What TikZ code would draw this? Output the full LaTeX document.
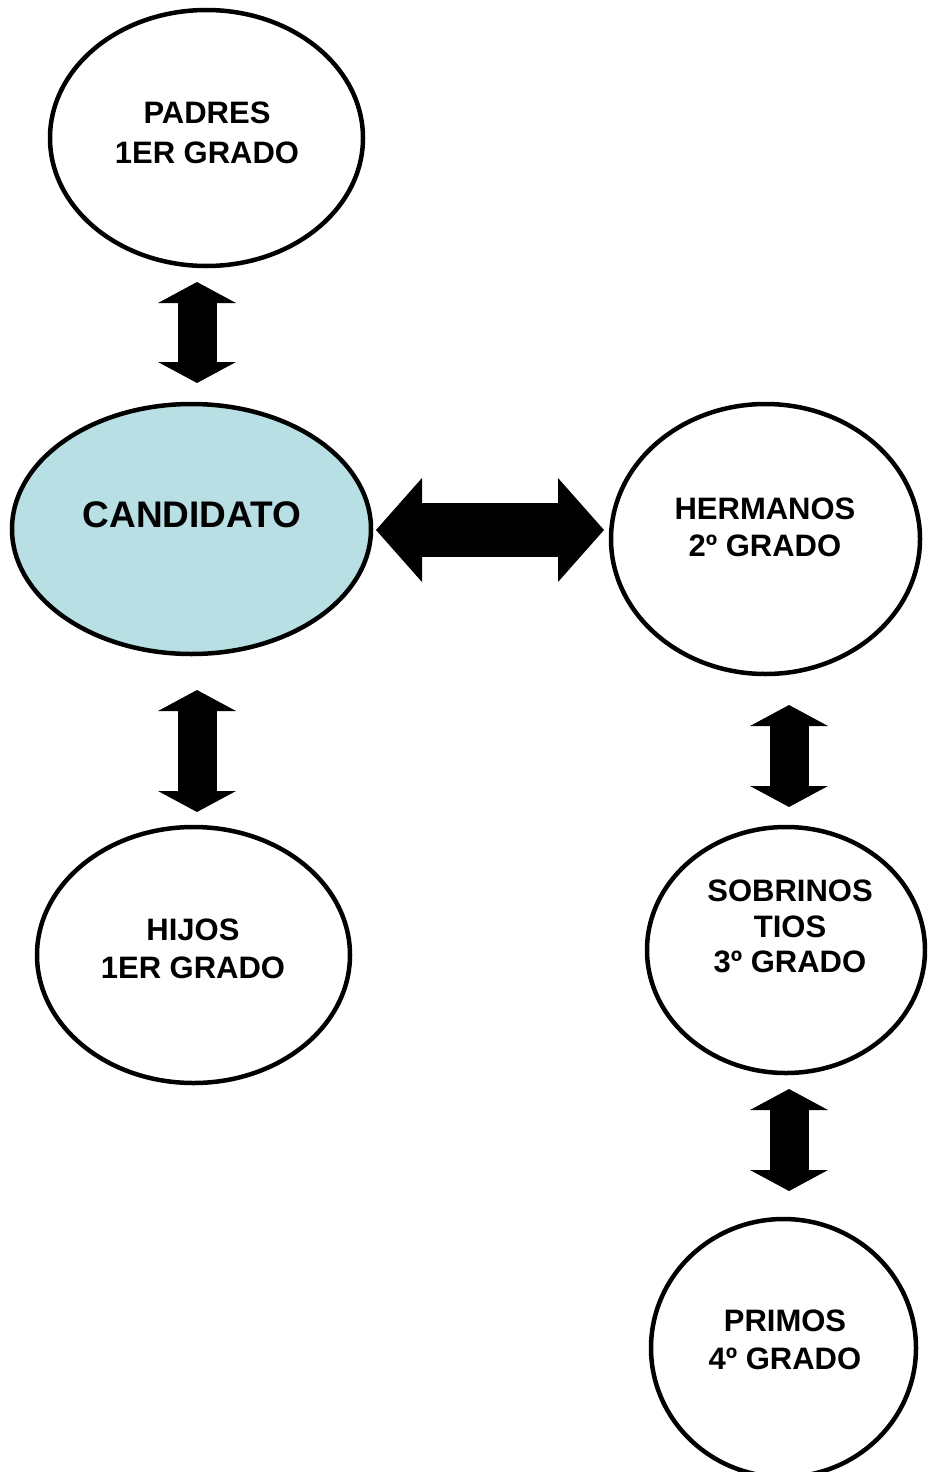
\documentclass[tikz,border=0pt]{standalone}
\usepackage{fontspec}
\setmainfont{Liberation Sans}
\usetikzlibrary{arrows.meta,shapes.geometric}
\definecolor{candfill}{RGB}{184,223,227}
\begin{document}
\begin{tikzpicture}[x=1pt,y=-1pt,
  circ/.style={ellipse, draw=black, line width=4.5pt, fill=white, inner sep=0pt},
  lbl/.style={font=\fontsize{31}{38}\selectfont\bfseries, align=center, inner sep=0pt},
  vdbl/.style={line width=39pt, {Triangle[length=21pt,width=78pt,line width=0pt]}-{Triangle[length=21pt,width=78pt,line width=0pt]}},
  hdbl/.style={line width=54pt, {Triangle[length=46pt,width=104pt,line width=0pt]}-{Triangle[length=46pt,width=104pt,line width=0pt]}}]
\useasboundingbox (0,0) rectangle (927,1472);
\clip (0,0) rectangle (927,1472);
% ellipses
\node[circ, minimum width=313pt, minimum height=256pt] (padres) at (206.5,138) {};
\node[circ, fill=candfill, minimum width=359pt, minimum height=250pt] (cand) at (191.5,529) {};
\node[circ, minimum width=309pt, minimum height=270pt] (herm) at (765.5,539) {};
\node[circ, minimum width=313pt, minimum height=256pt] (hijos) at (193.5,955) {};
\node[circ, minimum width=278pt, minimum height=246pt] (sobr) at (786,950) {};
\node[circ, minimum width=265pt, minimum height=258pt] (primos) at (783.5,1348) {};
% texts
\node[lbl, font=\fontsize{31}{39.5}\selectfont\bfseries] (padres-t) at (207,132.75) {PADRES\\1ER GRADO};
\node[lbl, font=\fontsize{37}{44}\selectfont\bfseries] (cand-t) at (192,515) {CANDIDATO};
\node[lbl, font=\fontsize{31}{37}\selectfont\bfseries] (herm-t) at (765,527.5) {HERMANOS\\2º GRADO};
\node[lbl] (hijos-t) at (193,949) {HIJOS\\1ER GRADO};
\node[lbl, font=\fontsize{31}{35.5}\selectfont\bfseries] (sobr-t) at (790,926.5) {SOBRINOS\\TIOS\\3º GRADO};
\node[lbl] (primos-t) at (785,1340) {PRIMOS\\4º GRADO};
% arrow end points
\coordinate (a1s) at (197,282);  \coordinate (a1e) at (197,383);
\coordinate (a2s) at (197,690);  \coordinate (a2e) at (197,812);
\coordinate (hs) at (376,530);   \coordinate (he) at (604,530);
\coordinate (a3s) at (789,705);  \coordinate (a3e) at (789,807);
\coordinate (a4s) at (789,1089); \coordinate (a4e) at (789,1191);
\draw[vdbl] (a1s) -- (a1e);
\draw[vdbl] (a2s) -- (a2e);
\draw[hdbl] (hs) -- (he);
\draw[vdbl] (a3s) -- (a3e);
\draw[vdbl] (a4s) -- (a4e);
\end{tikzpicture}
\end{document}
